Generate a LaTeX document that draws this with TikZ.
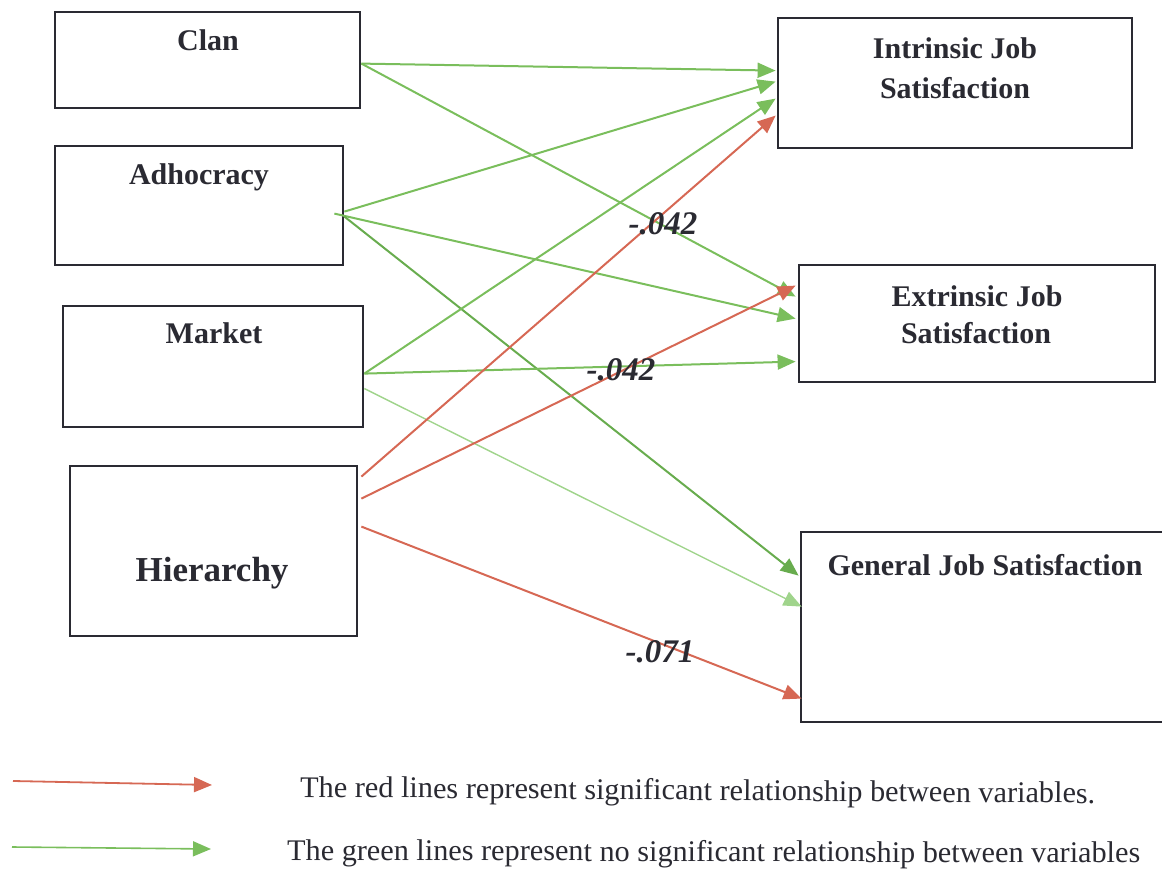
\documentclass[tikz,border=0pt]{standalone}
\usepackage{graphicx}
\usepackage{fontspec}
\setmainfont{Liberation Serif}
\usetikzlibrary{arrows.meta,calc}

\definecolor{sig}{RGB}{214,104,84}
\definecolor{nsig}{RGB}{122,190,92}
\definecolor{nsigdark}{RGB}{104,172,78}
\definecolor{nsiglight}{RGB}{160,212,140}
\definecolor{ink}{RGB}{42,42,50}

\begin{document}
\begin{tikzpicture}[x=1pt,y=-1pt,
  varbox/.style={draw=ink, line width=2.8pt, rectangle, inner sep=0pt},
  title/.style={font=\fontsize{30}{36}\selectfont\bfseries, text=ink, anchor=base, inner sep=0pt},
  coef/.style={font=\fontsize{33}{36}\selectfont\bfseries\itshape, text=ink, anchor=base, inner sep=0pt},
  note/.style={font=\fontsize{30}{36}\selectfont, text=ink, anchor=base west, inner sep=0pt},
  link/.style={line width=2pt, -{Triangle[length=18pt,width=15pt]}},
  sigline/.style={link, draw=sig, fill=sig},
  nsigline/.style={link, draw=nsig, fill=nsig},
  nsigdarkline/.style={link, draw=nsigdark, fill=nsigdark},
  nsiglightline/.style={link, line width=1.4pt, draw=nsiglight, fill=nsiglight},
]
\useasboundingbox (0,0) rectangle (1162,885);

% organisational culture types
\node[varbox, minimum width=305pt, minimum height=96pt]  (clan) at (207.5,60)  {};
\node[varbox, minimum width=288pt, minimum height=119pt] (adh)  at (199,205.5) {};
\node[varbox, minimum width=300pt, minimum height=121pt] (mkt)  at (213,366.5) {};
\node[varbox, minimum width=287pt, minimum height=170pt] (hier) at (213.5,551) {};

\node[title] (clanT) at (208,51)  {Clan};
\node[title] (adhT)  at (199,185) {Adhocracy};
\node[title] (mktT)  at (214,344) {Market};
\node[title, font=\fontsize{35}{40}\selectfont\bfseries] (hierT) at (212,581) {Hierarchy};

% job satisfaction outcomes
\node[varbox, minimum width=354pt, minimum height=130pt] (intr) at (955,83)    {};
\node[varbox, minimum width=356pt, minimum height=117pt] (extr) at (977,323.5) {};
\node[varbox, minimum width=365pt, minimum height=190pt] (gen)  at (983.5,627) {};

\node[title] (intrA) at (955,59)  {Intrinsic Job};
\node[title] (intrB) at (955,99)  {Satisfaction};
\node[title] (extrA) at (977,307) {Extrinsic Job};
\node[title] (extrB) at (976,344) {Satisfaction};
\node[title] (genT)  at (985,575) {General Job Satisfaction};

% ports on the boxes
\coordinate (clan-o)  at ($(clan.north east)+(0,53)$);
\coordinate (adh-o1)  at ($(adh.north east)+(0,67)$);
\coordinate (adh-o2)  at ($(adh.north east)+(-10,69)$);
\coordinate (adh-o3)  at ($(adh.north east)+(0,72)$);
\coordinate (mkt-o1)  at ($(mkt.north east)+(0,69)$);
\coordinate (mkt-o2)  at ($(mkt.north east)+(0,84)$);
\coordinate (hier-o1) at ($(hier.north east)+(3,12)$);
\coordinate (hier-o2) at ($(hier.north east)+(3,34)$);
\coordinate (hier-o3) at ($(hier.north east)+(3,62)$);

\coordinate (intr-i1) at ($(intr.north west)+(-1,54)$);
\coordinate (intr-i2) at ($(intr.north west)+(-1,65)$);
\coordinate (intr-i3) at ($(intr.north west)+(-1,82)$);
\coordinate (intr-i4) at ($(intr.north west)+(-1,99)$);
\coordinate (extr-i1) at ($(extr.north west)+(-2,22)$);
\coordinate (extr-i2) at ($(extr.north west)+(-2,33)$);
\coordinate (extr-i3) at ($(extr.north west)+(-2,55)$);
\coordinate (extr-i4) at ($(extr.north west)+(-2,98)$);
\coordinate (gen-i1)  at ($(gen.north west)+(-1,45)$);
\coordinate (gen-i2)  at ($(gen.north west)+(2,76)$);
\coordinate (gen-i3)  at ($(gen.north west)+(2,168)$);

% non-significant paths
\draw[nsigline] (clan-o) -- (intr-i1);
\draw[nsigline] (clan-o) -- (extr-i2);
\draw[nsigline] (adh-o1) -- (intr-i2);
\draw[nsigline] (adh-o2) -- (extr-i3);
\draw[nsigdarkline] (adh-o3) -- (gen-i1);
\draw[nsigline] (mkt-o1) -- (intr-i3);
\draw[nsigline] (mkt-o1) -- (extr-i4);
\draw[nsiglightline] (mkt-o2) -- (gen-i2);

% significant paths
\draw[sigline] (hier-o1) -- (intr-i4);
\draw[sigline] (hier-o2) -- (extr-i1);
\draw[sigline] (hier-o3) -- (gen-i3);

% path coefficients
\node[coef] (c1) at (663,235) {-.042};
\node[coef] (c2) at (621,380) {-.042};
\node[coef] (c3) at (660,662) {-.071};

% legend
\coordinate (lr1) at (13,781);
\coordinate (lr2) at (212,785);
\coordinate (lg1) at (12,847);
\coordinate (lg2) at (211,849);
\draw[sigline, line width=1.8pt] (lr1) -- (lr2);
\draw[nsigline, line width=1.6pt] (lg1) -- (lg2);
\node[note, rotate=-0.45] (legR) at (300,797)
  {\resizebox{795pt}{\height}{The red lines represent significant relationship between variables.}};
\node[note, rotate=-0.2] (legG) at (287,860)
  {\resizebox{853pt}{\height}{The green lines represent no significant relationship between variables}};
\end{tikzpicture}
\end{document}
